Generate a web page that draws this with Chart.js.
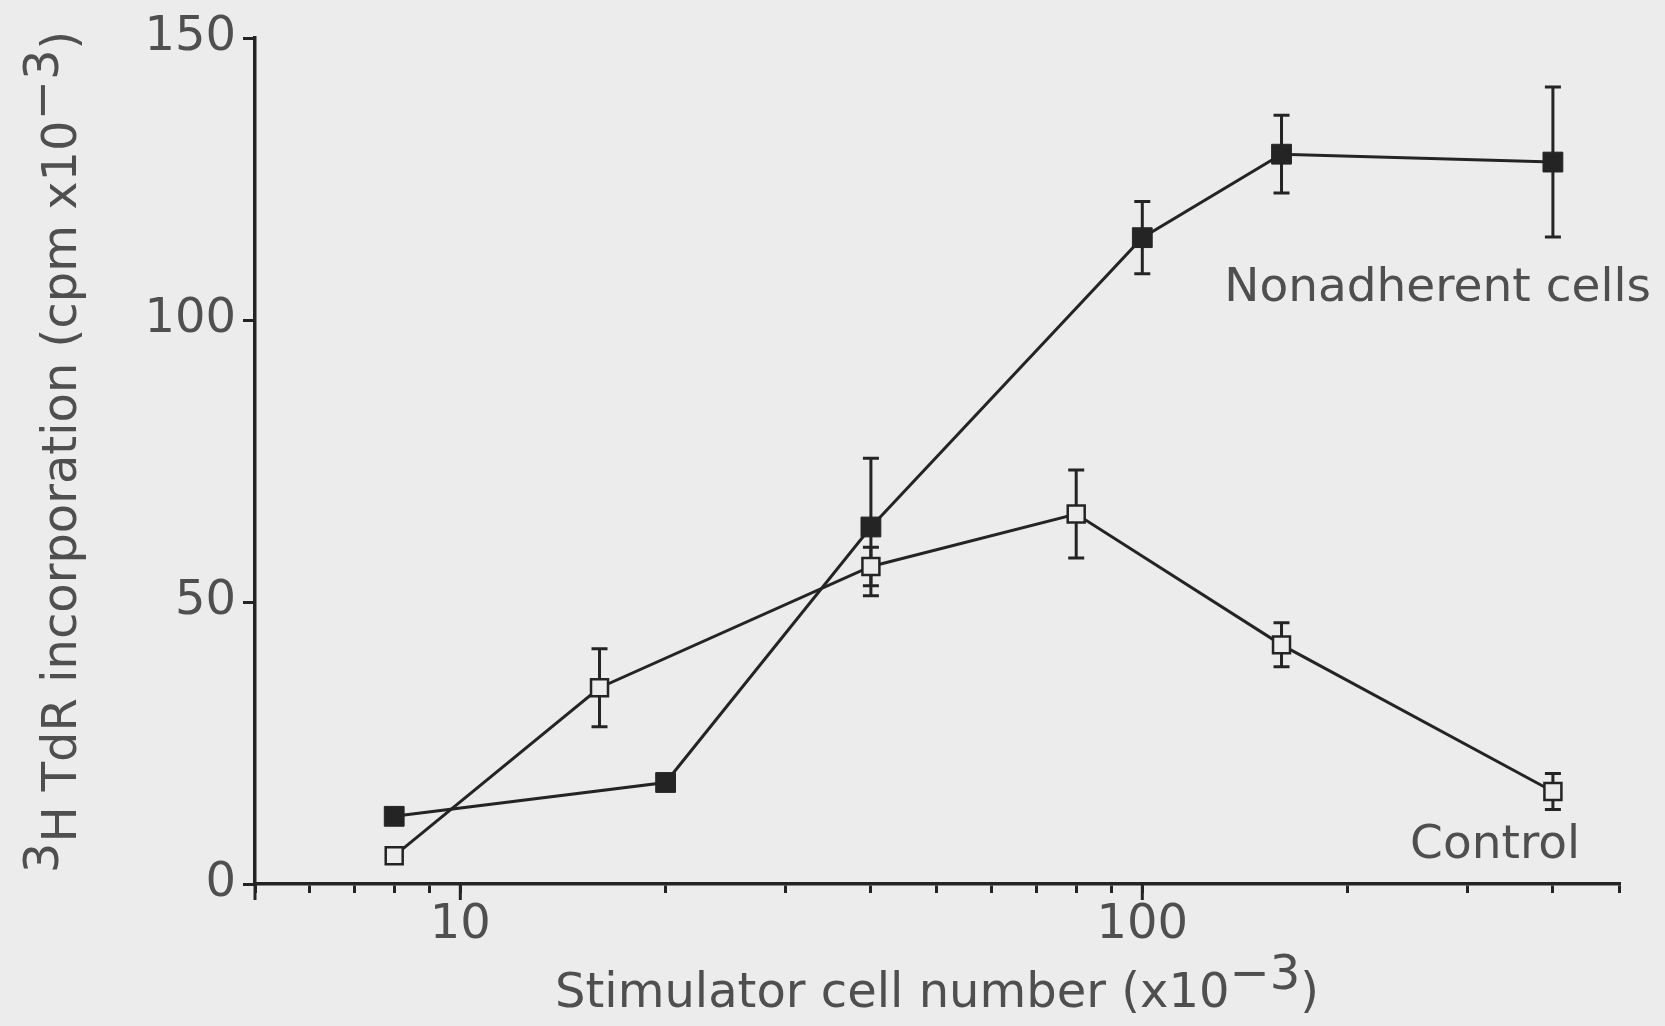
<!DOCTYPE html>
<html>
<head>
<meta charset="utf-8">
<script src="https://cdn.jsdelivr.net/npm/chart.js@4.4.0/dist/chart.umd.min.js"></script>
<style>
  html, body { margin: 0; padding: 0; background: #ececec; }
  #wrap { width: 1665px; height: 1026px; }
</style>
</head>
<body>
<div id="wrap"><canvas id="ctxStimulation" width="1665" height="1026"></canvas></div>
<script>
// stimulator cell number (x10^-3) vs 3H TdR incorporation (cpm x10^-3)
const nonadherentX = [8, 20, 40, 100, 160, 400];
const nonadherentY = [12, 18, 63.3, 114.6, 129.4, 128];
const nonadherentErr = [0, 0, 12.2, 6.4, 6.9, 13.3];

const controlX = [8, 16, 40, 80, 160, 400];
const controlY = [5, 34.8, 56.3, 65.6, 42.4, 16.4];
const controlErr = [0, 6.9, 3.4, 7.8, 3.9, 3.2];

const xTickValues = [5, 6, 7, 8, 9, 10, 20, 30, 40, 50, 60, 70, 80, 90, 100, 200, 300, 400, 500];
const xTickLabels = [10, 100];
const xLongTicks = [5, 10, 100];
const yTickValues = [0, 50, 100, 150];

const ink = '#242424';
const textGray = '#4f4f4f';
const paper = '#ececec';
const fontFamily = "'DejaVu Sans', sans-serif";

// draws text runs where some runs are raised (superscripts)
function drawRuns(ctx, runs, x, y) {
  var total = 0;
  runs.forEach(r => { total += ctx.measureText(r.text).width; });
  var cx = x - total / 2;
  runs.forEach(r => {
    ctx.fillText(r.text, cx, y - (r.sup ? 18 : 0));
    cx += ctx.measureText(r.text).width;
  });
}

const errorBars = {
  id: 'errorBars',
  beforeDatasetsDraw(chart) {
    var ctx = chart.ctx;
    var yScale = chart.scales.y;
    ctx.save();
    ctx.strokeStyle = ink;
    ctx.lineWidth = 3;
    chart.data.datasets.forEach((ds, di) => {
      var meta = chart.getDatasetMeta(di);
      ds.errors.forEach((e, i) => {
        if (!e) return;
        var px = meta.data[i].x;
        var v = ds.data[i].y;
        var top = yScale.getPixelForValue(v + e);
        var bot = yScale.getPixelForValue(v - e);
        ctx.beginPath();
        ctx.moveTo(px, top); ctx.lineTo(px, bot);
        ctx.moveTo(px - 8, top); ctx.lineTo(px + 8, top);
        ctx.moveTo(px - 8, bot); ctx.lineTo(px + 8, bot);
        ctx.stroke();
      });
    });
    ctx.restore();
  }
};

const axisExtras = {
  id: 'axisExtras',
  afterDraw(chart) {
    var ctx = chart.ctx;
    var xScale = chart.scales.x;
    var area = chart.chartArea;
    ctx.save();
    // longer ticks on the decades
    ctx.strokeStyle = ink;
    ctx.lineWidth = 3;
    xLongTicks.forEach(v => {
      var px = xScale.getPixelForValue(v);
      ctx.beginPath();
      ctx.moveTo(px, area.bottom);
      ctx.lineTo(px, area.bottom + 16);
      ctx.stroke();
    });

    ctx.fillStyle = textGray;
    ctx.font = '48px ' + fontFamily;
    ctx.textAlign = 'left';
    ctx.textBaseline = 'alphabetic';

    // x title
    drawRuns(ctx, [
      { text: 'Stimulator cell number (x10' },
      { text: '\u22123', sup: true },
      { text: ')' }
    ], (area.left + area.right) / 2, 1007);

    // y title
    ctx.save();
    ctx.translate(76, 452);
    ctx.rotate(-Math.PI / 2);
    drawRuns(ctx, [
      { text: '3', sup: true },
      { text: 'H TdR incorporation (cpm x10' },
      { text: '\u22123', sup: true },
      { text: ')' }
    ], 0, 0);
    ctx.restore();

    // series labels
    ctx.font = '47px ' + fontFamily;
    ctx.textAlign = 'right';
    ctx.textBaseline = 'middle';
    ctx.fillText('Nonadherent cells', 1651, 289);
    ctx.fillText('Control', 1580, 846);
    ctx.restore();
  }
};

var ctxStimulation = document.getElementById('ctxStimulation').getContext('2d');
var stimulationChart = new Chart(ctxStimulation, {
  type: 'line',
  data: {
    datasets: [{
      label: 'Nonadherent cells',
      data: nonadherentX.map((x, i) => ({ x: x, y: nonadherentY[i] })),
      errors: nonadherentErr,
      borderColor: ink,
      borderWidth: 3,
      pointStyle: 'rect',
      pointRadius: 14,
      pointBackgroundColor: ink,
      pointBorderColor: ink,
      pointBorderWidth: 1
    },
    {
      label: 'Control',
      data: controlX.map((x, i) => ({ x: x, y: controlY[i] })),
      errors: controlErr,
      borderColor: ink,
      borderWidth: 3,
      pointStyle: 'rect',
      pointRadius: 12,
      pointBackgroundColor: paper,
      pointBorderColor: ink,
      pointBorderWidth: 2.5
    }]
  },
  options: {
    responsive: false,
    animation: false,
    layout: { padding: { top: 38, right: 46, left: 0, bottom: 0 } },
    plugins: {
      legend: { display: false },
      tooltip: { enabled: false }
    },
    scales: {
      x: {
        type: 'logarithmic',
        min: 5,
        max: 500,
        afterBuildTicks: s => { s.ticks = xTickValues.map(v => ({ value: v })); },
        afterFit: s => { s.height = 1026 - 884; },
        ticks: {
          autoSkip: false,
          maxRotation: 0,
          padding: 4,
          color: textGray,
          font: { family: fontFamily, size: 48 },
          callback: v => xTickLabels.includes(v) ? String(v) : ''
        },
        grid: { drawOnChartArea: false, tickLength: 9, color: ink, lineWidth: 3 },
        border: { color: ink, width: 3.5 }
      },
      y: {
        min: 0,
        max: 150,
        afterBuildTicks: s => { s.ticks = yTickValues.map(v => ({ value: v })); },
        afterFit: s => { s.width = 255; },
        ticks: {
          padding: 7,
          color: textGray,
          font: { family: fontFamily, size: 48 }
        },
        grid: { drawOnChartArea: false, tickLength: 12, color: ink, lineWidth: 3 },
        border: { color: ink, width: 3.5 }
      }
    }
  },
  plugins: [errorBars, axisExtras]
});
</script>
</body>
</html>
